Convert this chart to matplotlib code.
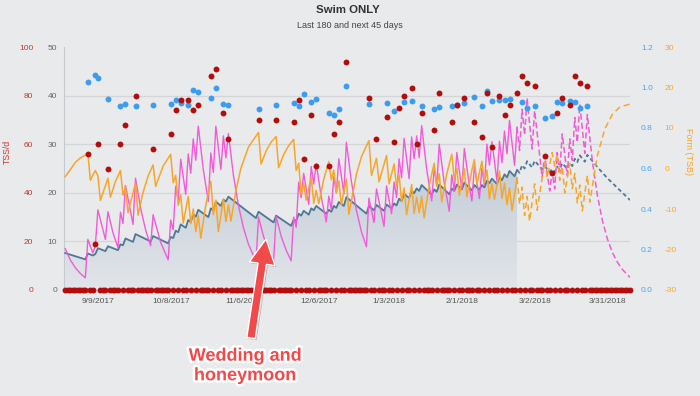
import numpy as np
import pandas as pd
import matplotlib
matplotlib.use('Agg')
import matplotlib.pyplot as plt
import matplotlib.transforms as mtransforms
import matplotlib.patheffects as pe
from matplotlib.patches import FancyArrow
from matplotlib.colors import LinearSegmentedColormap

plt.rcParams['font.family'] = ['Liberation Sans', 'DejaVu Sans']
plt.rcParams['axes.unicode_minus'] = False

# days are counted from the first day of the 180+45 day window
start = pd.Timestamp('2017-08-27')
today = 180
n_days = 225
tick_dates = ['9/9/2017', '10/8/2017', '11/6/2017', '12/6/2017',
              '1/3/2018', '2/1/2018', '3/2/2018', '3/31/2018']

# fitness (CTL), fatigue (ATL) on the 0-50 axis, form (TSB) on -30..30
ctl = [(0, 7.6), (8, 6.3), (9, 7.5), (11, 7.1), (12, 7.4), (13, 8.6), (16, 8.0), (17, 9.0),
       (21, 8.2), (22, 9.4), (23, 9.2), (24, 10.6), (27, 9.9), (28, 11.5), (34, 10.0), (35, 11.1),
       (41, 9.6), (42, 10.9), (43, 10.7), (44, 12.2), (45, 11.9), (46, 13.5), (48, 12.8), (49, 14.4),
       (50, 14.0), (51, 15.5), (52, 15.1), (53, 16.5), (57, 15.0), (58, 16.8), (59, 16.4), (60, 18.2),
       (62, 17.3), (63, 18.6), (64, 18.2), (65, 19.2), (76, 14.8), (77, 16.1), (83, 13.9), (84, 15.3),
       (90, 13.2), (91, 14.5), (92, 14.2), (93, 15.7), (94, 15.3), (95, 16.3), (97, 15.5), (98, 16.8),
       (99, 16.4), (100, 17.3), (104, 15.7), (105, 16.5), (106, 16.1), (107, 17.3), (108, 16.9),
       (109, 18.1), (111, 17.3), (112, 19.1), (120, 15.7), (121, 17.3), (123, 16.4), (124, 17.5),
       (127, 16.3), (128, 17.6), (130, 16.8), (131, 17.8), (132, 17.4), (133, 18.8), (134, 18.3),
       (135, 19.8), (137, 18.9), (138, 20.4), (139, 19.9), (140, 20.9), (141, 20.4), (142, 21.6),
       (146, 19.6), (147, 20.7), (148, 20.2), (149, 21.7), (153, 19.7), (154, 20.9), (155, 20.4),
       (156, 21.7), (158, 20.7), (159, 22.1), (162, 20.5), (163, 21.6), (165, 20.6), (166, 21.6),
       (167, 21.1), (168, 22.5), (169, 22.0), (170, 22.9), (172, 21.8), (173, 23.2), (174, 22.6),
       (175, 23.8), (176, 23.2), (177, 24.5), (179, 23.4), (180, 24.7), (181, 24.1), (182, 25.7),
       (183, 25.0), (184, 26.5), (186, 25.2), (187, 26.6), (190, 24.8), (191, 25.5), (193, 24.3),
       (194, 24.9), (195, 24.3), (196, 25.4), (197, 24.8), (198, 26.1), (200, 24.9), (201, 26.1),
       (202, 25.5), (203, 27.0), (204, 26.3), (205, 27.7), (207, 26.4), (208, 27.8), (212, 25.3),
       (216, 23.0), (220, 21.0), (225, 18.5)]

atl = [(0, 8.5), (2, 6.2), (4, 4.6), (6, 3.4), (8, 2.5), (9, 10.4), (11, 7.6), (12, 9.2), (13, 16.5),
       (16, 10.4), (17, 16.1), (19, 11.8), (21, 8.7), (22, 16.0), (23, 13.7), (24, 21.5), (27, 13.5),
       (28, 23.0), (30, 16.9), (32, 12.4), (34, 9.1), (35, 15.5), (38, 9.8), (41, 6.2), (42, 14.4),
       (43, 12.4), (44, 21.3), (45, 18.4), (46, 26.9), (48, 19.7), (49, 28.0), (50, 24.0), (51, 31.1),
       (52, 26.7), (53, 33.7), (55, 24.8), (57, 18.2), (58, 28.2), (59, 24.2), (60, 33.7), (62, 24.8),
       (63, 31.7), (64, 27.2), (65, 32.2), (67, 23.6), (69, 17.4), (71, 12.8), (73, 9.4), (76, 5.9),
       (77, 15.0), (79, 11.0), (81, 8.1), (83, 6.0), (84, 15.1), (86, 11.1), (88, 8.2), (90, 6.0),
       (91, 15.0), (92, 12.9), (93, 22.2), (94, 19.0), (95, 24.0), (97, 17.6), (98, 25.4), (99, 21.8),
       (100, 26.0), (102, 19.1), (104, 14.0), (105, 19.3), (106, 16.5), (107, 23.3), (108, 20.0),
       (109, 27.0), (111, 19.8), (112, 30.4), (114, 22.3), (116, 16.4), (118, 12.0), (120, 8.9),
       (121, 18.9), (123, 13.9), (124, 20.8), (127, 13.1), (128, 21.4), (130, 15.7), (131, 22.2),
       (132, 19.0), (133, 27.0), (134, 23.1), (135, 31.2), (137, 22.9), (138, 31.5), (139, 27.0),
       (140, 31.7), (141, 27.2), (142, 33.8), (144, 24.8), (146, 18.3), (147, 25.1), (148, 21.5),
       (149, 30.0), (151, 22.0), (153, 16.2), (154, 23.7), (155, 20.3), (156, 28.3), (158, 20.8),
       (159, 29.1), (161, 21.4), (162, 18.3), (163, 25.5), (165, 18.8), (166, 25.1), (167, 21.5),
       (168, 30.0), (169, 25.7), (170, 30.5), (172, 22.4), (173, 30.6), (174, 26.2), (175, 32.7),
       (176, 28.0), (177, 34.9), (179, 25.6), (180, 33.5), (181, 28.7), (182, 37.2), (183, 31.9),
       (184, 39.5), (186, 29.0), (187, 36.9), (190, 23.2), (191, 27.7), (193, 20.4), (194, 24.3),
       (195, 20.8), (196, 28.3), (197, 24.3), (198, 32.1), (200, 23.6), (201, 31.1), (202, 26.7),
       (203, 35.5), (204, 30.4), (205, 38.2), (207, 28.1), (208, 36.1), (210, 26.5), (212, 19.5),
       (214, 14.3), (216, 10.5), (218, 7.7), (220, 5.7), (222, 4.2), (225, 2.6)]

tsb = [(0, -2.0), (2, -0.3), (4, 1.5), (6, 2.6), (8, 3.3), (9, 3.8), (10, -2.9), (11, -1.6), (12, -0.5),
       (13, -1.8), (14, -7.9), (17, -2.4), (18, -7.1), (20, -3.2), (22, -0.5), (23, -6.6), (24, -4.5),
       (25, -10.9), (28, -3.6), (29, -11.5), (31, -5.9), (33, -1.9), (35, 0.9), (36, -4.4), (39, 0.6),
       (42, 3.5), (43, -3.5), (44, -1.7), (45, -9.1), (46, -6.5), (47, -13.5), (49, -6.9), (50, -13.6),
       (51, -10.0), (52, -15.6), (53, -11.6), (54, -17.2), (56, -9.0), (58, -3.2), (59, -11.4),
       (60, -7.8), (61, -15.6), (63, -7.5), (64, -13.1), (65, -9.0), (66, -13.0), (68, -5.4), (70, 0.1),
       (73, 5.3), (77, 8.9), (78, 1.1), (80, 4.3), (82, 6.5), (84, 7.9), (85, 0.2), (87, 3.4), (89, 5.6),
       (91, 7.2), (92, -0.5), (93, 1.3), (94, -6.5), (95, -3.7), (96, -7.8), (98, -2.1), (99, -8.6),
       (100, -5.4), (101, -8.7), (103, -2.6), (105, 1.7), (106, -2.8), (107, -0.4), (108, -6.0),
       (109, -3.1), (110, -8.9), (112, -2.6), (113, -11.3), (116, -1.4), (118, 2.9), (121, 6.9),
       (122, -1.7), (124, 2.5), (125, -3.3), (128, 3.2), (129, -3.8), (131, 1.1), (132, -4.4),
       (133, -1.6), (134, -8.2), (135, -4.8), (136, -11.4), (138, -4.0), (139, -11.1), (140, -7.1),
       (141, -10.9), (142, -6.9), (143, -12.2), (145, -4.2), (147, 1.3), (148, -4.4), (149, -1.3),
       (150, -8.3), (152, -1.3), (154, 3.5), (155, -2.8), (156, 0.1), (157, -6.6), (159, -0.1),
       (160, -7.0), (162, -0.4), (163, 2.2), (164, -3.9), (166, 1.8), (167, -3.5), (168, -0.4),
       (169, -7.5), (170, -3.7), (171, -7.6), (173, -0.6), (174, -7.4), (175, -3.6), (176, -8.9),
       (177, -4.8), (178, -10.4), (180, -2.3), (181, -8.8), (182, -4.6), (183, -11.6), (184, -6.9),
       (185, -13.0), (187, -3.8), (188, -10.3), (191, 1.6), (192, -2.2), (194, 3.9), (195, 0.6),
       (196, 3.5), (197, -2.9), (198, 0.5), (199, -6.0), (201, 1.3), (202, -5.0), (203, -1.2),
       (204, -8.5), (205, -4.1), (206, -10.5), (208, -1.7), (209, -8.3), (212, 3.2), (215, 9.8),
       (218, 13.4), (221, 15.2), (225, 15.9)]

# workout TSS (0-100 axis) and intensity factor (0-1.2 axis)
tss = [(9, 56), (12, 19), (13, 60), (17, 50), (22, 60), (24, 68), (28, 80), (35, 58), (42, 64),
       (44, 74), (46, 78), (49, 78), (51, 74), (53, 76), (58, 88), (60, 91), (63, 73), (65, 62),
       (77, 70), (84, 70), (91, 69), (93, 78), (95, 54), (98, 72), (100, 51), (105, 51), (107, 64),
       (109, 69), (112, 94), (121, 79), (124, 62), (128, 71), (131, 61), (133, 75), (135, 80),
       (138, 83), (140, 60), (142, 73), (147, 66), (149, 81), (154, 69), (156, 76), (159, 79),
       (163, 69), (166, 63), (168, 81), (170, 59), (173, 80), (175, 72), (177, 76), (180, 81),
       (182, 88), (184, 85), (187, 84), (191, 55), (194, 48), (196, 73), (198, 79), (201, 76),
       (203, 88), (205, 85), (208, 84)]

ifs = [(9, 1.025), (12, 1.063), (13, 1.046), (17, 0.942), (22, 0.91), (24, 0.918), (28, 0.908),
       (35, 0.914), (42, 0.918), (44, 0.938), (46, 0.922), (49, 0.912), (51, 0.988), (53, 0.979),
       (58, 0.95), (60, 0.999), (63, 0.918), (65, 0.912), (77, 0.892), (84, 0.912), (91, 0.922),
       (93, 0.91), (95, 0.966), (98, 0.927), (100, 0.942), (105, 0.874), (107, 0.862), (109, 0.892),
       (112, 1.009), (121, 0.92), (128, 0.922), (131, 0.883), (135, 0.93), (138, 0.935), (142, 0.909),
       (147, 0.894), (149, 0.905), (154, 0.907), (156, 0.915), (159, 0.922), (163, 0.951),
       (166, 0.909), (168, 0.983), (170, 0.933), (173, 0.937), (175, 0.937), (177, 0.943),
       (182, 0.928), (184, 0.9), (187, 0.909), (191, 0.85), (194, 0.859), (196, 0.928), (198, 0.922),
       (201, 0.932), (203, 0.928), (205, 0.9), (208, 0.91)]

# colours
bg = '#e9eaec'
c_ctl = '#4f7895'
c_atl = '#f25bd7'
c_tsb = '#f6a62a'
c_tss = '#b30c0c'
c_if = '#3d9cf0'
c_red_lbl = '#c0392b'
c_note = '#f24a4a'


def split(pairs):
    d = np.array([p[0] for p in pairs], dtype=float)
    v = np.array([p[1] for p in pairs], dtype=float)
    past = d <= today
    future = d >= today
    return (d[past], v[past]), (d[future], v[future])


W, H = 700, 396
fig = plt.figure(figsize=(W / 100, H / 100), dpi=100)
fig.patch.set_facecolor(bg)
ax = fig.add_axes([64 / W, 1 - 290 / H, (630 - 64) / W, (290 - 47) / H])
ax.set_facecolor(bg)

# stacking: ax (fitness/fatigue) < form < IF dots < TSS dots
ax_tsb = ax.twinx()
ax_if = ax.twinx()
ax_tss = ax.twinx()

# fitness area with a soft vertical gradient
(cd, cv), (cdf, cvf) = split(ctl)
area = ax.fill_between(cd, cv, 0, color='none', lw=0)
cmap = LinearSegmentedColormap.from_list('ctl', ['#e2e5e9', '#c3ced9'])
grad = ax.imshow(np.linspace(0, 1, 100).reshape(-1, 1), cmap=cmap, aspect='auto',
                 extent=[0, today, 0, cv.max()], origin='lower', zorder=1)
grad.set_clip_path(area.get_paths()[0], transform=ax.transData)
ax.plot(cd, cv, color=c_ctl, lw=1.3, zorder=3)
ax.plot(cdf, cvf, color=c_ctl, lw=1.3, dashes=(2.2, 1.6), zorder=3)

(ad, av), (adf, avf) = split(atl)
ax.plot(ad, av, color=c_atl, lw=1.0, zorder=4)
ax.plot(adf, avf, color=c_atl, lw=1.1, dashes=(4, 2), zorder=4)

(td, tv), (tdf, tvf) = split(tsb)
ax_tsb.plot(td, tv, color=c_tsb, lw=1.1)
ax_tsb.plot(tdf, tvf, color=c_tsb, lw=1.1, dashes=(4, 2.5))

ax_if.scatter([p[0] for p in ifs], [p[1] for p in ifs], s=18, color=c_if, lw=0, zorder=5)

tss_days = [p[0] for p in tss]
rest_days = [d for d in range(n_days + 1) if d not in tss_days]
ax_tss.scatter(rest_days, np.zeros(len(rest_days)), s=18, color=c_tss, lw=0, clip_on=False, zorder=5)
ax_tss.scatter(tss_days, [p[1] for p in tss], s=18, color=c_tss, lw=0, zorder=6)

# axes and gridlines
grid_vals = [10, 20, 30, 40]
for g in grid_vals:
    ax.axhline(g, color='#d3d5d9', lw=0.9, zorder=0.5)

ax.set_xlim(-0.5, n_days)
ax.set_ylim(0, 50)
ax.set_yticks(range(0, 51, 10))
ax.set_xticks([(pd.Timestamp(s) - start).days for s in tick_dates])
ax.set_xticklabels(tick_dates)
ax.tick_params(axis='y', length=0, pad=5, labelsize=6, labelcolor='#666666')
ax.tick_params(axis='x', length=0, pad=6, labelsize=6, labelcolor='#555555')

ax_tss.set_ylim(0, 100)
ax_tss.yaxis.tick_left()
ax_tss.set_yticks(range(0, 101, 20))
ax_tss.tick_params(axis='y', length=0, pad=22, labelsize=6, labelcolor=c_red_lbl)

ax_if.set_ylim(0, 1.2)
ax_if.set_yticks(np.arange(0, 1.21, 0.2))
ax_if.set_yticklabels(['%.1f' % t for t in np.arange(0, 1.21, 0.2)])
ax_if.tick_params(axis='y', length=0, pad=8, labelsize=6, labelcolor='#4aa3f2')

ax_tsb.set_ylim(-30, 30)
ax_tsb.set_yticks(range(-30, 31, 10))
ax_tsb.tick_params(axis='y', length=0, pad=25, labelsize=6, labelcolor=c_tsb)

for a in (ax, ax_tss, ax_if, ax_tsb):
    for side in ('top', 'right', 'bottom', 'left'):
        a.spines[side].set_visible(False)
ax.spines['left'].set_visible(True)
ax.spines['left'].set_color('#c6c9cd')

# titles
fig.text(348 / W, 1 - 10 / H, 'Swim ONLY', ha='center', va='center', fontsize=8.2,
         weight='bold', color='#333333')
fig.text(350 / W, 1 - 26 / H, 'Last 180 and next 45 days', ha='center', va='center',
         fontsize=6.5, color='#444444')
fig.text(7 / W, 1 - 152 / H, 'TSS/d', ha='center', va='center', rotation=90,
         fontsize=6.3, color=c_red_lbl)
fig.text(689 / W, 1 - 152 / H, 'Form (TSB)', ha='center', va='center', rotation=270,
         fontsize=6.5, color=c_tsb)

# annotation arrow and note, in pixel units
px = mtransforms.Affine2D().scale(1 / W, 1 / H) + fig.transFigure
arrow = FancyArrow(251, H - 338, 15, 99, width=8.5, head_width=26, head_length=25,
                   length_includes_head=True, fc=c_note, ec='white', lw=1.0, transform=px,
                   path_effects=[pe.SimplePatchShadow(offset=(1, -1), alpha=0.25), pe.Normal()])
fig.add_artist(arrow)
fig.text(245 / W, 1 - 366 / H, 'Wedding and\nhoneymoon', ha='center', va='center',
         multialignment='center', fontsize=13, weight='bold', color=c_note, linespacing=1.2,
         path_effects=[pe.withStroke(linewidth=3.5, foreground='white')])

fig.savefig('out.png', dpi=100, facecolor=bg)
